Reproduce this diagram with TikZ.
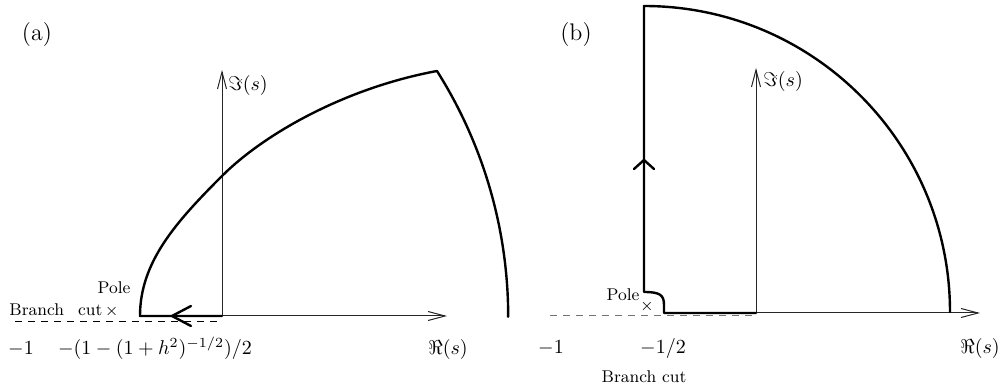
\documentclass[tikz,border=0pt]{standalone}
\usetikzlibrary{arrows.meta}
\begin{document}
\begin{tikzpicture}[x=0.5pt,y=-0.5pt,
  contour/.style={line width=1.2pt, line join=round, line cap=round},
  axis/.style={line width=0.5pt, black!85, -{Straight Barb[length=8.5pt,width=4.5pt,line width=0.5pt]}},
  cutline/.style={line width=0.5pt, dash pattern=on 3.5pt off 3pt},
  lbl/.style={font=\fontsize{8.5}{10}\selectfont, inner sep=0pt},
  mlbl/.style={inner sep=0pt},
  panel/.style={font=\large, inner sep=0pt}]
\useasboundingbox (0,0) rectangle (1003,385);

% ---------- panel (a) ----------
\node[panel] (la) at (37,35) {(a)};
\coordinate (oa) at (222,316);
\coordinate (axa) at (447,316);
\coordinate (aya) at (222,70);
\draw[axis] (oa) -- (axa);
\draw[axis] (oa) -- (aya);
\node[mlbl, anchor=west] (ima) at (228,86) {$\Im(s)$};
\coordinate (csa) at (15,322);
\coordinate (cea) at (222,322);
\draw[cutline] (csa) -- (cea);
\coordinate (pa) at (140,316);
\coordinate (ma) at (222,176);
\coordinate (ta) at (437,71);
\draw[contour] (oa) -- (pa)
  .. controls (140,262) and (176,222) .. (ma)
  .. controls (264,134) and (345,88) .. (ta)
  arc[start angle=-32.3, end angle=0, radius=460];
\coordinate (aw1) at (191,306);
\coordinate (atip) at (172,316);
\coordinate (aw2) at (191,326);
\draw[contour] (aw1) -- (atip) -- (aw2);
\node[lbl, anchor=base] (polea) at (114,293) {Pole};
\node[lbl, anchor=base west] (bca) at (9,315) {Branch\hspace{7pt}cut\,$\times$};
\node[mlbl, anchor=base] (m1a) at (21,355) {$-1$};
\node[mlbl, anchor=base] (hpa) at (155,355) {$-(1-(1+h^2)^{-1/2})/2$};
\node[mlbl, anchor=base] (rea) at (448,355) {$\Re(s)$};

% ---------- panel (b) ----------
\node[panel] (lb) at (576,35) {(b)};
\coordinate (ob) at (756,313);
\coordinate (axb) at (980,313);
\coordinate (ayb) at (756,68);
\draw[axis] (ob) -- (axb);
\draw[axis] (ob) -- (ayb);
\node[mlbl, anchor=west] (imb) at (763,82) {$\Im(s)$};
\coordinate (csb) at (550,316);
\coordinate (ceb) at (756,316);
\draw[cutline, black!55] (csb) -- (ceb);
\coordinate (s1) at (664,313);
\coordinate (s2) at (664,305);
\coordinate (s3) at (644,292);
\coordinate (tb) at (644,6);
\draw[contour] (ob) -- (s1) -- (s2) .. controls (664,295) and (660,292) .. (s3) -- (tb)
  arc[start angle=-90, end angle=0, radius=306];
\coordinate (bw1) at (634,169);
\coordinate (btip) at (644,160);
\coordinate (bw2) at (654,169);
\draw[contour] (bw1) -- (btip) -- (bw2);
\node[lbl, anchor=base] (poleb) at (623,300) {Pole};
\node[lbl] (xb) at (647,307) {$\times$};
\node[mlbl, anchor=base] (m1b) at (551,353) {$-1$};
\node[mlbl, anchor=base] (m2b) at (663,353) {$-1/2$};
\node[mlbl, anchor=base] (reb) at (980,353) {$\Re(s)$};
\node[lbl, anchor=base] (bcb) at (644,382) {Branch cut};
\end{tikzpicture}
\end{document}
